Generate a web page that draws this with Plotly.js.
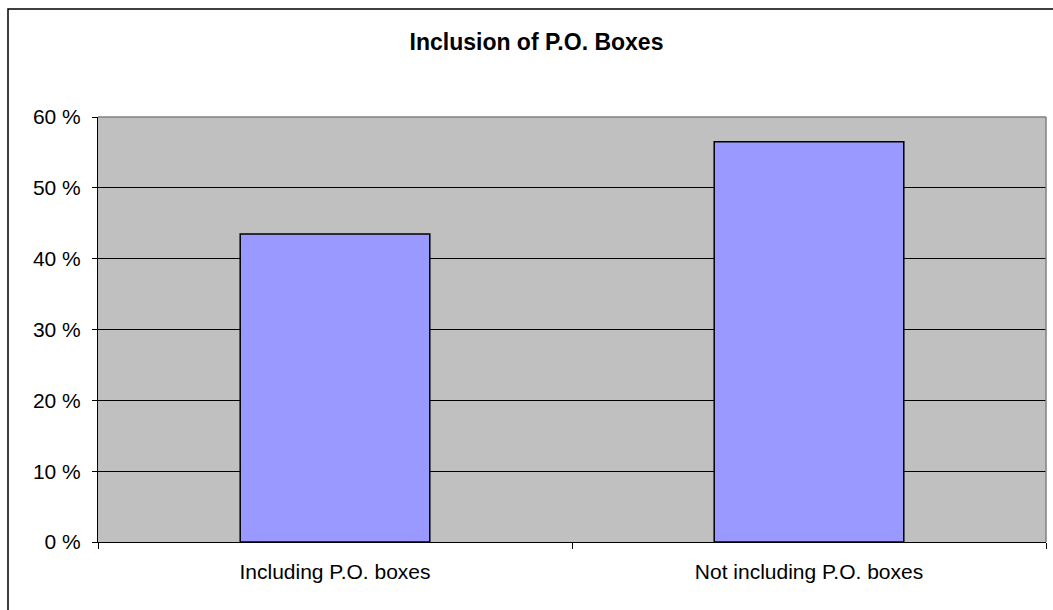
<!DOCTYPE html>
<html>
<head>
<meta charset="utf-8">
<script src="https://cdn.plot.ly/plotly-3.0.1.min.js"></script>
<style>
  html, body { margin: 0; padding: 0; background: #ffffff; }
  #chart { width: 1053px; height: 610px; }
</style>
</head>
<body>
<div id="chart"></div>
<script>
// Share of addresses, with and without P.O. boxes (percent)
const categories = ["Including P.O. boxes", "Not including P.O. boxes"];
const shares = [43.5, 56.5];
const yTicks = [0, 10, 20, 30, 40, 50, 60];
const yTickLabels = ["0 %", "10 %", "20 %", "30 %", "40 %", "50 %", "60 %"];

const W = 1053, H = 610;
const M = { l: 98, r: 7, t: 117, b: 68 };
const plotW = W - M.l - M.r, plotH = H - M.t - M.b;
// pixel -> paper helpers for the decorative frame
const px = x => (x - M.l) / plotW;
const py = y => (H - M.b - y) / plotH;

const font = "Liberation Sans, Arial, sans-serif";

const trace = {
  type: "bar",
  x: categories,
  y: shares,
  width: 0.4,
  marker: { color: "#9999FF", line: { color: "#000000", width: 1.5 } },
  hoverinfo: "x+y"
};

const layout = {
  width: W,
  height: H,
  margin: M,
  paper_bgcolor: "#ffffff",
  plot_bgcolor: "#C0C0C0",
  showlegend: false,
  bargap: 0.6,
  title: {
    text: "<b>Inclusion of P.O. Boxes</b>",
    font: { family: font, size: 23, color: "#000000" },
    x: 536.5 / W, xref: "container", xanchor: "center",
    y: 1 - 42 / H, yref: "container", yanchor: "middle"
  },
  xaxis: {
    type: "category",
    tickson: "boundaries",
    ticks: "outside",
    ticklen: 6,
    tickcolor: "#000000",
    tickwidth: 1,
    showline: true,
    linecolor: "#000000",
    linewidth: 1,
    showgrid: false,
    ticklabelstandoff: 11,
    tickfont: { family: font, size: 21, color: "#000000" },
    fixedrange: true
  },
  yaxis: {
    range: [0, 60],
    tickmode: "array",
    tickvals: yTicks,
    ticktext: yTickLabels,
    ticks: "outside",
    ticklen: 5,
    tickcolor: "#000000",
    tickwidth: 1,
    showline: true,
    linecolor: "#000000",
    linewidth: 1,
    showgrid: true,
    gridcolor: "#000000",
    gridwidth: 1,
    zeroline: false,
    ticklabelstandoff: 7,
    tickfont: { family: font, size: 21, color: "#000000" },
    fixedrange: true
  },
  shapes: [
    // plot-area frame (top and right edges)
    { type: "line", xref: "paper", yref: "paper", x0: 0, x1: 1, y0: 1, y1: 1,
      line: { color: "#808080", width: 1.5 } },
    { type: "line", xref: "paper", yref: "paper", x0: 1, x1: 1, y0: 0, y1: 1,
      line: { color: "#808080", width: 1.5 } },
    // outer chart frame
    { type: "rect", xref: "paper", yref: "paper",
      x0: px(8), x1: px(W + 20), y0: py(H + 20), y1: py(9),
      line: { color: "#000000", width: 1.5 }, fillcolor: "rgba(0,0,0,0)" }
  ]
};

Plotly.newPlot("chart", [trace], layout, { displayModeBar: false, staticPlot: true });
</script>
</body>
</html>
